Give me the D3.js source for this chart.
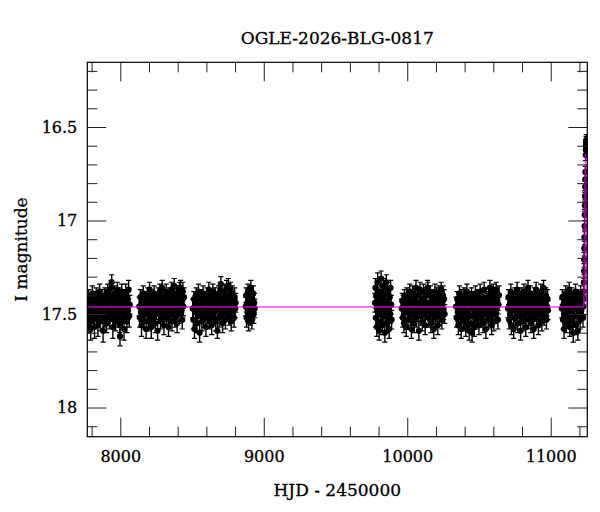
<!DOCTYPE html>
<html><head><meta charset="utf-8">
<script src="https://cdn.jsdelivr.net/npm/d3@7"></script>
<style>html,body{margin:0;padding:0;background:#fff}svg{display:block}text{font-family:"DejaVu Serif",serif;fill:#000}</style>
</head><body><div id="chart"></div>
<script>
const title = "OGLE-2026-BLG-0817";
const xLabel = "HJD - 2450000";
const yLabel = "I magnitude";
const xMajor = [8000, 9000, 10000, 11000];
const xMinor = [7800,8200,8400,8600,8800,9200,9400,9600,9800,10200,10400,10600,10800,11200];
const yMajor = [16.5, 17, 17.5, 18];
const yMinor = [16.2,16.3,16.4,16.6,16.7,16.8,16.9,17.1,17.2,17.3,17.4,17.6,17.7,17.8,17.9,18.1];
const xDomain = [7770, 11255];
const yDomain = [16.154, 18.156];

// [HJD-2450000, I mag, error]
const season1 = [[7772,17.47,.05],[7776,17.52,.05],[7779,17.41,.04],[7783,17.55,.05],[7787,17.44,.04],[7790,17.49,.05],[7794,17.58,.06],[7798,17.43,.04],[7801,17.50,.05],[7805,17.39,.04],[7809,17.46,.05],[7813,17.53,.05],[7816,17.45,.05],[7820,17.57,.06],[7824,17.42,.04],[7828,17.48,.05],[7832,17.40,.04],[7836,17.51,.05],[7840,17.46,.05],[7844,17.56,.06],[7848,17.43,.04],[7852,17.49,.05],[7856,17.38,.04],[7860,17.54,.05],[7864,17.45,.05],[7868,17.50,.05],[7872,17.41,.04],[7876,17.47,.05],[7880,17.59,.06],[7884,17.44,.04],[7888,17.52,.05],[7892,17.40,.04],[7896,17.48,.05],[7900,17.42,.04],[7904,17.55,.05],[7908,17.46,.05],[7912,17.38,.04],[7916,17.50,.05],[7920,17.44,.05],[7924,17.53,.05],[7928,17.41,.04],[7932,17.47,.05],[7936,17.36,.04],[7940,17.33,.04],[7944,17.49,.05],[7948,17.57,.06],[7952,17.43,.04],[7956,17.51,.05],[7960,17.39,.04],[7964,17.46,.05],[7968,17.54,.05],[7972,17.42,.04],[7976,17.48,.05],[7980,17.37,.04],[7984,17.52,.05],[7988,17.45,.05],[7992,17.40,.04],[7996,17.55,.05],[7998,17.62,.05],[8002,17.44,.05],[8006,17.49,.05],[8010,17.38,.04],[8014,17.53,.05],[8018,17.46,.05],[8022,17.41,.04],[8026,17.58,.06],[8030,17.43,.05],[8034,17.50,.05],[8038,17.39,.05],[8042,17.47,.05],[8046,17.54,.06],[8050,17.42,.05],[8054,17.48,.05],[8058,17.37,.05],[8062,17.51,.06],[8066,17.45,.05]];
const season2 = [[8132,17.46,.05],[8136,17.52,.05],[8140,17.41,.04],[8144,17.49,.05],[8148,17.56,.06],[8152,17.43,.04],[8156,17.47,.05],[8160,17.39,.04],[8164,17.53,.05],[8168,17.45,.05],[8172,17.50,.05],[8176,17.42,.04],[8180,17.58,.05],[8184,17.44,.05],[8188,17.48,.05],[8192,17.40,.04],[8196,17.54,.05],[8200,17.46,.05],[8204,17.37,.04],[8208,17.51,.05],[8212,17.43,.04],[8216,17.57,.06],[8220,17.47,.05],[8224,17.41,.04],[8228,17.52,.05],[8232,17.45,.05],[8236,17.39,.04],[8240,17.49,.05],[8244,17.55,.05],[8248,17.42,.04],[8252,17.48,.05],[8256,17.44,.05],[8260,17.59,.05],[8264,17.40,.04],[8268,17.50,.05],[8272,17.46,.05],[8276,17.38,.04],[8280,17.53,.05],[8284,17.43,.05],[8288,17.47,.05],[8292,17.36,.04],[8296,17.51,.05],[8300,17.45,.05],[8304,17.56,.05],[8308,17.41,.04],[8312,17.49,.05],[8316,17.44,.05],[8320,17.38,.04],[8324,17.52,.05],[8328,17.46,.05],[8332,17.42,.04],[8336,17.57,.05],[8340,17.48,.05],[8344,17.40,.04],[8348,17.50,.05],[8352,17.44,.05],[8356,17.37,.04],[8360,17.54,.05],[8364,17.46,.05],[8368,17.41,.04],[8372,17.48,.05],[8376,17.35,.04],[8380,17.52,.05],[8384,17.43,.05],[8388,17.47,.05],[8392,17.39,.04],[8396,17.55,.05],[8400,17.45,.05],[8404,17.40,.04],[8408,17.50,.05],[8412,17.37,.04],[8416,17.44,.05],[8420,17.36,.04],[8424,17.49,.05],[8428,17.42,.05],[8432,17.53,.05],[8436,17.38,.05],[8440,17.46,.05],[8444,17.41,.05]];
const season3 = [[8505,17.47,.05],[8509,17.53,.05],[8513,17.42,.04],[8517,17.58,.05],[8521,17.45,.05],[8525,17.49,.05],[8529,17.40,.04],[8533,17.55,.05],[8537,17.44,.05],[8541,17.51,.05],[8545,17.38,.04],[8549,17.47,.05],[8553,17.60,.05],[8557,17.43,.04],[8561,17.50,.05],[8565,17.41,.04],[8569,17.54,.05],[8573,17.46,.05],[8577,17.39,.04],[8581,17.52,.05],[8585,17.44,.05],[8589,17.48,.05],[8593,17.42,.04],[8597,17.57,.05],[8601,17.45,.05],[8605,17.40,.04],[8609,17.50,.05],[8613,17.47,.05],[8617,17.37,.04],[8621,17.53,.05],[8625,17.43,.05],[8629,17.49,.05],[8633,17.41,.04],[8637,17.56,.05],[8641,17.46,.05],[8645,17.38,.04],[8649,17.51,.05],[8653,17.44,.05],[8657,17.48,.05],[8661,17.40,.04],[8665,17.54,.05],[8669,17.45,.05],[8673,17.42,.04],[8677,17.59,.04],[8681,17.47,.05],[8685,17.39,.04],[8689,17.52,.05],[8693,17.43,.05],[8697,17.37,.04],[8701,17.34,.04],[8705,17.50,.05],[8709,17.44,.05],[8713,17.55,.05],[8717,17.41,.04],[8721,17.48,.05],[8725,17.38,.04],[8729,17.46,.05],[8733,17.53,.05],[8737,17.42,.05],[8741,17.36,.04],[8745,17.49,.05],[8749,17.44,.05],[8753,17.35,.04],[8757,17.51,.05],[8761,17.40,.04],[8765,17.47,.05],[8769,17.37,.04],[8773,17.54,.05],[8777,17.43,.05],[8781,17.39,.04],[8785,17.48,.05],[8789,17.45,.05],[8793,17.52,.05],[8797,17.41,.05],[8801,17.47,.05],[8804,17.44,.05]];
const season4 = [[8874,17.46,.05],[8877,17.40,.04],[8880,17.52,.05],[8884,17.44,.05],[8887,17.49,.05],[8890,17.38,.04],[8894,17.54,.05],[8897,17.43,.05],[8900,17.47,.05],[8904,17.41,.04],[8907,17.51,.05],[8910,17.36,.04],[8914,17.45,.05],[8917,17.53,.05],[8920,17.42,.04],[8924,17.48,.05],[8927,17.39,.04],[8930,17.50,.05],[8934,17.44,.05],[8937,17.47,.05]];
const season5 = [[9775,17.44,.05],[9778,17.36,.05],[9781,17.52,.05],[9784,17.40,.04],[9788,17.57,.05],[9791,17.47,.05],[9794,17.33,.05],[9798,17.50,.05],[9801,17.42,.04],[9804,17.59,.05],[9808,17.45,.05],[9811,17.38,.04],[9814,17.54,.05],[9818,17.31,.04],[9821,17.48,.05],[9824,17.41,.04],[9828,17.56,.05],[9831,17.46,.05],[9834,17.35,.04],[9838,17.51,.05],[9841,17.43,.05],[9844,17.60,.05],[9848,17.39,.04],[9851,17.49,.05],[9854,17.33,.04],[9858,17.55,.05],[9861,17.44,.05],[9864,17.37,.04],[9868,17.52,.05],[9871,17.47,.05],[9874,17.58,.05],[9878,17.41,.04],[9881,17.50,.05],[9884,17.36,.04],[9888,17.45,.05],[9891,17.53,.05]];
const season6 = [[9961,17.47,.05],[9965,17.43,.04],[9969,17.52,.05],[9973,17.45,.05],[9977,17.55,.05],[9981,17.41,.04],[9985,17.49,.05],[9989,17.44,.05],[9993,17.57,.05],[9997,17.40,.04],[10001,17.48,.05],[10005,17.53,.05],[10009,17.42,.04],[10013,17.46,.05],[10017,17.38,.04],[10021,17.51,.05],[10025,17.44,.05],[10029,17.58,.05],[10033,17.47,.05],[10037,17.39,.04],[10041,17.50,.05],[10045,17.43,.05],[10049,17.55,.05],[10053,17.41,.04],[10057,17.48,.05],[10061,17.36,.04],[10065,17.52,.05],[10069,17.45,.05],[10073,17.40,.04],[10077,17.49,.05],[10081,17.59,.05],[10085,17.44,.05],[10089,17.37,.04],[10093,17.51,.05],[10097,17.46,.05],[10101,17.42,.04],[10105,17.54,.05],[10109,17.47,.05],[10113,17.38,.04],[10117,17.50,.05],[10121,17.43,.05],[10125,17.56,.05],[10129,17.40,.04],[10133,17.48,.05],[10137,17.45,.05],[10141,17.36,.04],[10145,17.37,.04],[10149,17.52,.05],[10153,17.44,.05],[10157,17.49,.05],[10161,17.39,.04],[10165,17.55,.05],[10169,17.46,.05],[10173,17.41,.04],[10177,17.50,.05],[10181,17.43,.05],[10185,17.58,.05],[10189,17.47,.05],[10193,17.38,.04],[10197,17.52,.05],[10201,17.44,.05],[10205,17.40,.04],[10209,17.49,.05],[10213,17.56,.05],[10217,17.45,.05],[10221,17.39,.04],[10225,17.51,.05],[10229,17.42,.05],[10233,17.47,.05],[10237,17.37,.04],[10241,17.53,.05],[10245,17.44,.05],[10249,17.40,.05],[10253,17.48,.05],[10257,17.42,.05],[10261,17.50,.05]];
const season7 = [[10340,17.46,.05],[10344,17.52,.05],[10348,17.42,.04],[10352,17.49,.05],[10356,17.56,.05],[10360,17.44,.05],[10364,17.39,.04],[10368,17.51,.05],[10372,17.47,.05],[10376,17.58,.05],[10380,17.41,.04],[10384,17.48,.05],[10388,17.45,.05],[10392,17.54,.05],[10396,17.40,.04],[10400,17.50,.05],[10404,17.43,.05],[10408,17.57,.05],[10412,17.46,.05],[10416,17.38,.04],[10420,17.52,.05],[10424,17.44,.05],[10428,17.49,.05],[10432,17.59,.05],[10436,17.42,.04],[10440,17.47,.05],[10444,17.55,.05],[10448,17.40,.04],[10452,17.60,.05],[10456,17.45,.05],[10460,17.51,.05],[10464,17.43,.05],[10468,17.57,.05],[10472,17.48,.05],[10476,17.39,.04],[10480,17.53,.05],[10484,17.46,.05],[10488,17.41,.04],[10492,17.50,.05],[10496,17.44,.05],[10500,17.56,.05],[10504,17.47,.05],[10508,17.38,.04],[10512,17.52,.05],[10516,17.43,.05],[10520,17.49,.05],[10524,17.41,.04],[10528,17.55,.05],[10532,17.45,.05],[10536,17.37,.04],[10540,17.50,.05],[10544,17.46,.05],[10548,17.58,.05],[10552,17.42,.04],[10556,17.48,.05],[10560,17.44,.05],[10564,17.53,.05],[10568,17.40,.04],[10572,17.47,.05],[10576,17.36,.04],[10580,17.51,.05],[10584,17.45,.05],[10588,17.56,.05],[10592,17.42,.04],[10596,17.49,.05],[10600,17.38,.04],[10604,17.54,.05],[10608,17.46,.05],[10612,17.41,.04],[10616,17.50,.05],[10620,17.37,.04],[10624,17.47,.05],[10628,17.43,.05],[10632,17.53,.05],[10636,17.45,.05],[10640,17.40,.05]];
const season8 = [[10702,17.47,.05],[10706,17.41,.04],[10710,17.53,.05],[10714,17.45,.05],[10718,17.50,.05],[10722,17.38,.04],[10726,17.56,.05],[10730,17.44,.05],[10734,17.48,.05],[10738,17.42,.04],[10742,17.58,.05],[10746,17.46,.05],[10750,17.40,.04],[10754,17.52,.05],[10758,17.44,.05],[10762,17.49,.05],[10766,17.37,.04],[10770,17.55,.05],[10774,17.46,.05],[10778,17.42,.04],[10782,17.51,.05],[10786,17.45,.05],[10790,17.59,.05],[10794,17.40,.04],[10798,17.48,.05],[10802,17.43,.05],[10806,17.54,.05],[10810,17.47,.05],[10814,17.38,.04],[10818,17.50,.05],[10822,17.44,.05],[10826,17.57,.05],[10830,17.41,.04],[10834,17.49,.05],[10838,17.46,.05],[10842,17.36,.04],[10846,17.53,.05],[10850,17.43,.05],[10854,17.48,.05],[10858,17.39,.04],[10862,17.55,.05],[10866,17.45,.05],[10870,17.42,.04],[10874,17.51,.05],[10878,17.47,.05],[10882,17.58,.05],[10886,17.40,.04],[10890,17.49,.05],[10894,17.44,.05],[10898,17.37,.04],[10902,17.52,.05],[10906,17.46,.05],[10910,17.41,.04],[10914,17.56,.05],[10918,17.48,.05],[10922,17.43,.05],[10926,17.50,.05],[10930,17.38,.04],[10934,17.45,.05],[10938,17.54,.05],[10942,17.42,.04],[10946,17.47,.05],[10950,17.36,.04],[10954,17.51,.05],[10958,17.44,.05],[10962,17.49,.05],[10966,17.40,.04],[10970,17.53,.05],[10974,17.46,.05],[10978,17.42,.05],[10981,17.48,.05]];
const season9 = [[11077,17.47,.05],[11081,17.41,.04],[11085,17.53,.05],[11089,17.45,.05],[11093,17.58,.05],[11097,17.43,.04],[11101,17.50,.05],[11105,17.39,.04],[11109,17.55,.05],[11113,17.46,.05],[11117,17.42,.04],[11121,17.52,.05],[11125,17.48,.05],[11129,17.37,.04],[11133,17.57,.05],[11137,17.44,.05],[11141,17.49,.05],[11145,17.40,.04],[11149,17.54,.05],[11153,17.46,.05],[11157,17.60,.05],[11161,17.42,.04],[11165,17.51,.05],[11169,17.45,.05],[11173,17.38,.04],[11177,17.56,.05],[11181,17.47,.05],[11185,17.43,.05],[11189,17.59,.05],[11193,17.41,.04],[11197,17.50,.05],[11201,17.44,.05],[11205,17.53,.05],[11209,17.39,.04],[11213,17.48,.05],[11217,17.45,.05],[11221,17.41,.04],[11225,17.52,.05],[11227,17.46,.05]];
const eventPts = [[11229,17.42,.04],[11230,17.38,.04],[11231,17.33,.04],[11232,17.27,.04],[11233,17.21,.04],[11234,17.15,.04],[11235,17.09,.04],[11236,17.03,.03],[11237,16.97,.03],[11238,16.92,.03],[11239,16.87,.03],[11240,16.82,.03],[11241,16.78,.03],[11242,16.74,.03],[11244,16.65,.03],[11245,16.62,.03],[11246,16.60,.03],[11247,16.58,.03],[11248,16.57,.03],[11249,16.59,.03],[11250,16.61,.03],[11251,16.63,.03]];
// model curve [HJD-2450000, I mag]
const modelHJD = [7770, 11228, 11232, 11235, 11237, 11239, 11241, 11242, 11244, 11246, 11248, 11250, 11255];
const modelMag = [17.462, 17.462, 17.44, 17.30, 17.05, 16.85, 16.70, 16.644, 16.75, 17.05, 17.35, 17.45, 17.462];

const W = 600, H = 512;
const X0 = 87.3, X1 = 587.3, Y0 = 62.3, Y1 = 436.7;
const svg = d3.select("#chart").append("svg").attr("width", W).attr("height", H);
const x = d3.scaleLinear().domain(xDomain).range([X0, X1]);
const y = d3.scaleLinear().domain(yDomain).range([Y0, Y1]);

svg.append("defs").append("clipPath").attr("id","clip")
  .append("rect").attr("x", X0).attr("y", Y0).attr("width", X1 - X0).attr("height", Y1 - Y0);

const data = [].concat(season1, season2, season3, season4, season5, season6, season7, season8, season9, eventPts);
const g = svg.append("g").attr("clip-path", "url(#clip)");
const cap = 2.6;
g.selectAll("line.eb").data(data).join("line").attr("class","eb")
  .attr("x1", d => x(d[0])).attr("x2", d => x(d[0]))
  .attr("y1", d => y(d[1] - d[2])).attr("y2", d => y(d[1] + d[2]))
  .attr("stroke", "#000").attr("stroke-width", 1.4);
g.selectAll("line.ct").data(data).join("line").attr("class","ct")
  .attr("x1", d => x(d[0]) - cap).attr("x2", d => x(d[0]) + cap)
  .attr("y1", d => y(d[1] - d[2])).attr("y2", d => y(d[1] - d[2]))
  .attr("stroke", "#000").attr("stroke-width", 1.2);
g.selectAll("line.cb").data(data).join("line").attr("class","cb")
  .attr("x1", d => x(d[0]) - cap).attr("x2", d => x(d[0]) + cap)
  .attr("y1", d => y(d[1] + d[2])).attr("y2", d => y(d[1] + d[2]))
  .attr("stroke", "#000").attr("stroke-width", 1.2);
g.selectAll("circle").data(data).join("circle")
  .attr("cx", d => x(d[0])).attr("cy", d => y(d[1])).attr("r", 3.1).attr("fill", "#000");

const model = modelHJD.map((t, i) => [t, modelMag[i]]);
g.append("path").datum(model)
  .attr("d", d3.line().x(d => x(d[0])).y(d => y(d[1])))
  .attr("fill", "none").attr("stroke", "#ff00ff").attr("stroke-opacity", 0.55).attr("stroke-width", 2);

function styleAxis(sel) {
  sel.select(".domain").remove();
  sel.selectAll(".tick line").attr("stroke", "#222").attr("stroke-width", 1);
  sel.selectAll(".tick text").attr("font-family", "DejaVu Serif").attr("font-size", 16)
    .attr("fill", "#000").attr("stroke", "#000").attr("stroke-width", 0.3);
}
svg.append("g").attr("transform", `translate(0,${Y1})`)
  .call(d3.axisBottom(x).tickValues(xMajor).tickSize(-19).tickPadding(14).tickFormat(d3.format("d"))).call(styleAxis);
svg.append("g").attr("transform", `translate(0,${Y1})`)
  .call(d3.axisBottom(x).tickValues(xMinor).tickSize(-10).tickFormat("")).call(styleAxis);
svg.append("g").attr("transform", `translate(0,${Y0})`)
  .call(d3.axisTop(x).tickValues(xMajor).tickSize(-19).tickFormat("")).call(styleAxis);
svg.append("g").attr("transform", `translate(0,${Y0})`)
  .call(d3.axisTop(x).tickValues(xMinor).tickSize(-10).tickFormat("")).call(styleAxis);
svg.append("g").attr("transform", `translate(${X0},0)`)
  .call(d3.axisLeft(y).tickValues(yMajor).tickSize(-19).tickPadding(10).tickFormat(d3.format("~g"))).call(styleAxis);
svg.append("g").attr("transform", `translate(${X0},0)`)
  .call(d3.axisLeft(y).tickValues(yMinor).tickSize(-10).tickFormat("")).call(styleAxis);
svg.append("g").attr("transform", `translate(${X1},0)`)
  .call(d3.axisRight(y).tickValues(yMajor).tickSize(-19).tickFormat("")).call(styleAxis);
svg.append("g").attr("transform", `translate(${X1},0)`)
  .call(d3.axisRight(y).tickValues(yMinor).tickSize(-10).tickFormat("")).call(styleAxis);

svg.append("rect").attr("x", X0).attr("y", Y0).attr("width", X1 - X0).attr("height", Y1 - Y0)
  .attr("fill", "none").attr("stroke", "#000").attr("stroke-width", 1.2);

function label(sel) { return sel.attr("font-size", 17).attr("stroke", "#000").attr("stroke-width", 0.3); }
svg.append("text").attr("x", (X0 + X1) / 2).attr("y", 44).attr("text-anchor", "middle").call(label).text(title);
svg.append("text").attr("x", (X0 + X1) / 2).attr("y", 496).attr("text-anchor", "middle").call(label).text(xLabel);
svg.append("text").attr("transform", `translate(27,${(Y0 + Y1) / 2}) rotate(-90)`).attr("text-anchor", "middle").call(label).text(yLabel);
</script>
</body></html>
